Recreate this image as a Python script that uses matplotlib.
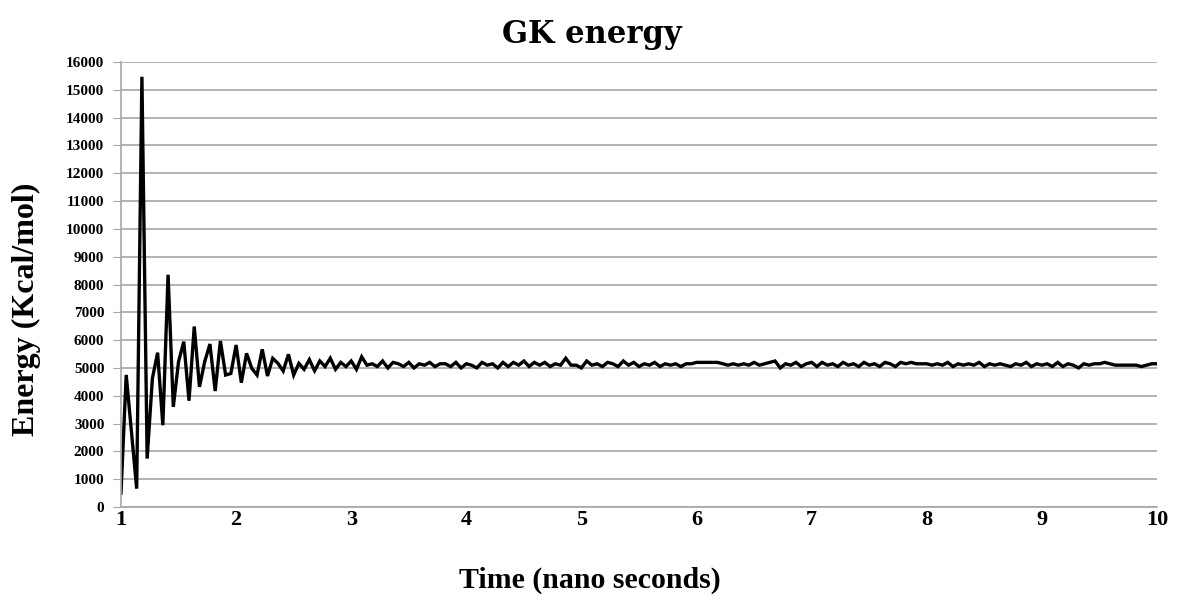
import numpy as np
import matplotlib
matplotlib.use("Agg")
import matplotlib.pyplot as plt

# energy values (Kcal/mol), evenly spaced from 1 to 10 ns
energy_start = [500, 4750, 2700, 660, 15470, 1740, 4620, 5550, 2940, 8350,
                3600, 5225, 5945, 3820, 6490, 4320, 5225, 5860, 4170, 5970,
                4745, 4800, 5825, 4470, 5525, 4985, 4745, 5670, 4710, 5345,
                5165, 4890, 5490, 4745, 5165]
energy_3ns = [4950, 5300, 4900, 5250, 5050, 5350, 4950, 5200, 5050, 5250, 4950,
              5400, 5100, 5150, 5050, 5250, 5000, 5200, 5150, 5050, 5200,
              5000, 5150, 5100, 5200, 5050, 5150, 5150, 5050, 5200, 5000, 5150]
energy_4ns = [5100, 5000, 5200, 5100, 5150, 5000, 5200, 5050, 5200, 5100, 5250,
              5050, 5200, 5100, 5200, 5050, 5150, 5100, 5350, 5100, 5100, 5000]
energy_5ns = [5250, 5100, 5150, 5050, 5200, 5150, 5050, 5250, 5100, 5200, 5050,
              5150, 5100, 5200, 5050, 5150, 5100, 5150, 5050, 5150, 5150, 5200]
energy_6ns = [5200, 5200, 5200, 5200, 5150, 5100, 5150, 5100, 5150, 5100, 5200,
              5100, 5150, 5200, 5250, 5000, 5150, 5100, 5200, 5050, 5150, 5200]
energy_7ns = [5050, 5200, 5100, 5150, 5050, 5200, 5100, 5150, 5050, 5200, 5100,
              5150, 5050, 5200, 5150, 5050, 5200, 5150, 5200, 5150, 5150, 5150]
energy_8ns = [5100, 5150, 5100, 5200, 5050, 5150, 5100, 5150, 5100, 5200, 5050,
              5150, 5100, 5150, 5100, 5050, 5150, 5100, 5200, 5050, 5150, 5100]
energy_9ns = [5150, 5050, 5200, 5050, 5150, 5100, 5000, 5150, 5100, 5150, 5150,
              5200, 5150, 5100, 5100, 5100, 5100, 5100, 5050, 5100, 5150, 5150]

energy = (energy_start + energy_3ns + energy_4ns + energy_5ns + energy_6ns
          + energy_7ns + energy_8ns + energy_9ns)
time = np.linspace(1, 10, len(energy))

x_ticks = list(range(1, 11))
y_ticks = list(range(0, 16001, 1000))

fig = plt.figure(figsize=(11.78, 6.01), dpi=100)
ax = fig.add_axes([0.1027, 0.1564, 0.8795, 0.7404])

ax.plot(time, energy, color="black", linewidth=2.4, solid_joinstyle="miter")

ax.set_xlim(1, 10)
ax.set_ylim(0, 16000)
ax.set_xticks(x_ticks)
ax.set_yticks(y_ticks)
ax.yaxis.grid(True, color="#a6a6a6", linewidth=1.2)
ax.set_axisbelow(True)

for s in ["top", "right"]:
    ax.spines[s].set_visible(False)
for s in ["left", "bottom"]:
    ax.spines[s].set_color("#a6a6a6")
    ax.spines[s].set_linewidth(1.2)

ax.tick_params(axis="y", length=6, color="#a6a6a6", pad=6)
ax.tick_params(axis="x", length=0, pad=2)
for lab in ax.get_yticklabels():
    lab.set_fontfamily("Liberation Serif")
    lab.set_fontweight("bold")
    lab.set_fontsize(11)
for lab in ax.get_xticklabels():
    lab.set_fontfamily("Liberation Serif")
    lab.set_fontweight("bold")
    lab.set_fontsize(16)

ax.set_ylabel("Energy (Kcal/mol)", fontfamily="Liberation Serif", fontweight="bold",
              fontsize=23)
ax.yaxis.set_label_coords(-0.077, 0.445)
ax.set_xlabel("Time (nano seconds)", fontfamily="Liberation Serif", fontweight="bold",
              fontsize=21.5)
ax.xaxis.set_label_coords(0.453, -0.135)
fig.text(0.502, 0.943, "GK energy", ha="center", va="center",
         fontfamily="DejaVu Serif", fontweight="bold", fontsize=22)

fig.savefig("out.png", dpi=100)
